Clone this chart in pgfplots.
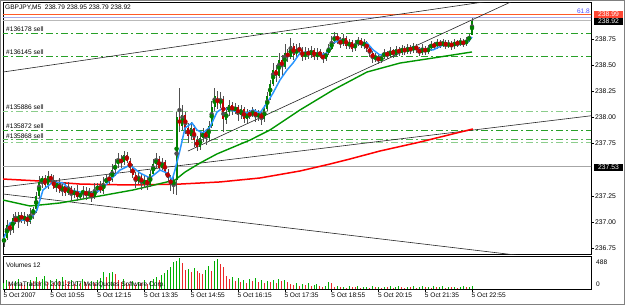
\documentclass[border=0pt]{standalone}
\usepackage{pgfplots}
\pgfplotsset{compat=1.18}
\usepackage{pgfplotstable}
\usepackage{fontspec}
\setmainfont{Liberation Sans}
\definecolor{bullc}{RGB}{0,128,0}
\definecolor{bearc}{RGB}{190,0,0}
\definecolor{wickc}{RGB}{80,80,80}
\definecolor{mablue}{RGB}{40,150,255}
\definecolor{magreen}{RGB}{0,150,0}
\definecolor{mared}{RGB}{255,0,0}
\definecolor{sellgreen}{RGB}{40,160,40}
\definecolor{selllight}{RGB}{140,205,140}
\definecolor{volgreen}{RGB}{0,175,0}
\definecolor{volred}{RGB}{235,40,40}
\definecolor{fiboorange}{RGB}{255,90,40}
\definecolor{bidlav}{RGB}{170,170,230}
\definecolor{boxred}{RGB}{255,70,50}
\definecolor{frameg}{RGB}{128,128,128}

\pgfplotstableread{
i o h l c
0 236.80 236.88 236.76 236.85
1 236.85 237.02 236.83 236.97
2 236.97 236.99 236.87 236.92
3 236.92 237.08 236.89 237.04
4 237.04 237.10 236.98 237.00
5 237.00 237.09 236.94 237.07
6 237.07 237.10 236.99 237.02
7 237.02 237.10 236.98 237.05
8 237.05 237.08 236.96 237.00
9 237.00 237.13 236.98 237.08
10 237.08 237.14 237.03 237.12
11 237.12 237.29 237.09 237.25
12 237.25 237.44 237.23 237.38
13 237.38 237.44 237.32 237.42
14 237.42 237.45 237.32 237.35
15 237.35 237.49 237.31 237.44
16 237.44 237.46 237.36 237.40
17 237.40 237.45 237.31 237.33
18 237.33 237.40 237.29 237.37
19 237.37 237.42 237.28 237.30
20 237.30 237.36 237.25 237.34
21 237.34 237.38 237.25 237.28
22 237.28 237.38 237.26 237.32
23 237.32 237.34 237.20 237.26
24 237.26 237.33 237.23 237.30
25 237.30 237.35 237.20 237.24
26 237.24 237.29 237.22 237.27
27 237.27 237.34 237.22 237.30
28 237.30 237.33 237.21 237.25
29 237.25 237.33 237.23 237.28
30 237.28 237.30 237.19 237.24
31 237.24 237.37 237.22 237.31
32 237.31 237.37 237.28 237.34
33 237.34 237.39 237.28 237.30
34 237.30 237.43 237.27 237.37
35 237.37 237.45 237.35 237.42
36 237.42 237.47 237.36 237.40
37 237.40 237.55 237.38 237.50
38 237.50 237.60 237.44 237.55
39 237.55 237.66 237.52 237.60
40 237.60 237.64 237.52 237.57
41 237.57 237.68 237.55 237.64
42 237.64 237.67 237.56 237.58
43 237.58 237.61 237.47 237.52
44 237.52 237.55 237.42 237.45
45 237.45 237.48 237.33 237.38
46 237.38 237.49 237.36 237.44
47 237.44 237.46 237.31 237.36
48 237.36 237.44 237.33 237.40
49 237.40 237.43 237.31 237.35
50 237.35 237.50 237.33 237.46
51 237.46 237.60 237.44 237.55
52 237.55 237.66 237.52 237.60
53 237.60 237.63 237.49 237.52
54 237.52 237.61 237.50 237.57
55 237.57 237.59 237.45 237.48
56 237.48 237.51 237.38 237.42
57 237.42 237.45 237.30 237.35
58 237.35 237.44 237.27 237.40
59 237.40 238.05 237.26 238.00
60 238.00 238.28 237.86 237.92
61 237.92 238.12 237.88 238.02
62 238.02 238.05 237.84 237.90
63 237.90 237.95 237.76 237.82
64 237.82 237.96 237.78 237.90
65 237.90 237.93 237.72 237.78
66 237.78 237.82 237.68 237.72
67 237.72 237.86 237.69 237.80
68 237.80 237.90 237.76 237.86
69 237.86 237.89 237.74 237.80
70 237.80 237.97 237.77 237.92
71 237.92 238.16 237.90 238.10
72 238.10 238.28 238.06 238.20
73 238.20 238.25 238.08 238.12
74 238.12 238.24 238.09 238.18
75 238.18 238.21 237.86 237.98
76 237.98 238.10 237.94 238.05
77 238.05 238.17 238.01 238.12
78 238.12 238.15 238.02 238.06
79 238.06 238.14 238.03 238.10
80 238.10 238.12 237.97 238.02
81 238.02 238.12 237.99 238.08
82 238.08 238.10 237.95 237.98
83 237.98 238.08 237.95 238.04
84 238.04 238.07 237.98 238.02
85 238.02 238.10 238.00 238.06
86 238.06 238.08 237.96 238.00
87 238.00 238.07 237.97 238.04
88 238.04 238.06 237.93 237.98
89 237.98 238.12 237.96 238.08
90 238.08 238.24 238.06 238.20
91 238.20 238.36 238.17 238.32
92 238.32 238.52 238.30 238.45
93 238.45 238.50 238.34 238.40
94 238.40 238.62 238.38 238.55
95 238.55 238.60 238.40 238.48
96 238.48 238.70 238.46 238.62
97 238.62 238.66 238.53 238.58
98 238.58 238.76 238.56 238.68
99 238.68 238.71 238.55 238.60
100 238.60 238.70 238.57 238.66
101 238.66 238.71 238.60 238.64
102 238.64 238.67 238.54 238.58
103 238.58 238.67 238.55 238.63
104 238.63 238.66 238.56 238.60
105 238.60 238.68 238.57 238.64
106 238.64 238.66 238.55 238.58
107 238.58 238.66 238.55 238.62
108 238.62 238.65 238.57 238.60
109 238.60 238.63 238.52 238.56
110 238.56 238.65 238.54 238.62
111 238.62 238.70 238.60 238.66
112 238.66 238.78 238.64 238.72
113 238.72 238.82 238.70 238.78
114 238.78 238.81 238.70 238.74
115 238.74 238.77 238.66 238.70
116 238.70 238.80 238.68 238.76
117 238.76 238.78 238.65 238.68
118 238.68 238.75 238.65 238.72
119 238.72 238.74 238.63 238.66
120 238.66 238.74 238.64 238.70
121 238.70 238.77 238.68 238.74
122 238.74 238.76 238.66 238.69
123 238.69 238.75 238.66 238.71
124 238.71 238.73 238.63 238.66
125 238.66 238.68 238.58 238.62
126 238.62 238.64 238.52 238.56
127 238.56 238.62 238.53 238.58
128 238.58 238.60 238.51 238.54
129 238.54 238.61 238.52 238.58
130 238.58 238.65 238.56 238.62
131 238.62 238.64 238.56 238.59
132 238.59 238.67 238.57 238.64
133 238.64 238.66 238.57 238.60
134 238.60 238.68 238.58 238.65
135 238.65 238.67 238.59 238.62
136 238.62 238.69 238.60 238.66
137 238.66 238.68 238.60 238.63
138 238.63 238.70 238.61 238.67
139 238.67 238.69 238.61 238.64
140 238.64 238.71 238.62 238.68
141 238.68 238.70 238.62 238.65
142 238.65 238.67 238.59 238.62
143 238.62 238.70 238.60 238.66
144 238.66 238.68 238.60 238.63
145 238.63 238.69 238.61 238.66
146 238.66 238.73 238.64 238.70
147 238.70 238.72 238.65 238.68
148 238.68 238.75 238.66 238.72
149 238.72 238.74 238.66 238.69
150 238.69 238.75 238.67 238.72
151 238.72 238.74 238.65 238.68
152 238.68 238.74 238.66 238.71
153 238.71 238.73 238.65 238.68
154 238.68 238.75 238.66 238.72
155 238.72 238.74 238.67 238.70
156 238.70 238.76 238.68 238.73
157 238.73 238.75 238.67 238.70
158 238.70 238.77 238.68 238.74
159 238.74 238.80 238.72 238.77
160 238.79 238.95 238.79 238.92
}\candles

\pgfplotstableread{
i v g
0 95 1
1 140 1
2 110 0
3 80 0
4 125 1
5 155 1
6 95 0
7 65 0
8 110 1
9 140 1
10 125 0
11 190 1
12 125 0
13 155 1
14 205 1
15 110 0
16 140 1
17 95 0
18 155 1
19 125 0
20 190 1
21 140 0
22 110 0
23 140 1
24 80 0
25 125 1
26 95 0
27 155 1
28 110 0
29 80 0
30 125 1
31 95 0
32 140 1
33 175 1
34 265 1
35 190 0
36 250 1
37 270 1
38 235 0
39 140 0
40 110 0
41 155 1
42 95 0
43 80 0
44 125 1
45 65 0
46 110 1
47 95 0
48 140 1
49 80 0
50 125 1
51 155 1
52 190 1
53 140 0
54 220 1
55 250 1
56 300 1
57 345 1
58 425 1
59 440 1
60 488 1
61 410 0
62 300 0
63 315 1
64 270 0
65 330 1
66 285 0
67 250 0
68 235 0
69 300 1
70 360 1
71 285 0
72 440 1
73 470 1
74 395 0
75 345 0
76 205 0
77 155 0
78 190 1
79 125 0
80 175 1
81 110 0
82 140 1
83 95 0
84 155 1
85 125 0
86 175 1
87 110 0
88 140 1
89 95 0
90 125 1
91 110 0
92 140 1
93 95 0
94 155 1
95 125 0
96 140 1
97 110 0
98 80 0
99 65 0
100 95 1
101 50 0
102 80 1
103 65 0
104 95 1
105 50 0
106 65 1
107 80 1
108 50 0
109 35 0
110 50 1
111 115 1
112 100 0
113 30 0
114 40 1
115 25 0
116 35 1
117 20 0
118 45 1
119 30 0
120 25 0
121 40 1
122 20 0
123 30 1
124 35 1
125 20 0
126 45 1
127 25 0
128 30 1
129 20 0
130 35 1
131 25 0
132 40 1
133 20 0
134 30 1
135 45 1
136 25 0
137 20 0
138 35 1
139 25 0
140 40 1
141 20 0
142 30 1
143 45 1
144 25 0
145 35 1
146 20 0
147 40 1
148 25 0
149 30 1
150 45 1
151 20 0
152 30 1
153 25 0
154 35 1
155 20 0
156 30 1
157 40 1
158 25 0
159 35 1
160 45 1
}\vols

\pgfplotstableread{
i p
0 236.846
2.05 236.989
5.47 237.018
8.89 237.018
11.28 237.114
13.33 237.305
16.75 237.382
20.17 237.372
22.56 237.305
25.98 237.286
29.4 237.276
31.79 237.286
33.85 237.324
36.24 237.401
39.66 237.496
43.08 237.544
46.5 237.468
49.91 237.420
53.33 237.496
55.73 237.468
57.44 237.401
58.46 237.496
60.17 237.688
61.88 237.898
64.27 237.946
65.98 237.879
68.03 237.850
70.43 237.908
72.82 238.051
74.87 238.090
77.26 238.071
80.0 238.051
83.08 238.042
85.13 238.071
87.52 238.042
89.91 238.138
91.97 238.233
94.36 238.358
96.75 238.453
98.8 238.520
101.2 238.616
103.6 238.626
105.6 238.616
108.0 238.597
110.4 238.616
112.5 238.712
114.9 238.740
117.3 238.712
119.3 238.693
121.7 238.712
124.1 238.712
126.2 238.645
128.5 238.597
130.9 238.616
133.0 238.626
136.4 238.645
139.8 238.673
143.2 238.645
146.7 238.645
150.1 238.693
154.9 238.693
158.3 238.712
160 238.769
}\mafast

\pgfplotstableread{
i p
-0.3 237.209
8.89 237.152
19.15 237.181
32.82 237.248
44.1 237.305
49.9 237.343
58.5 237.401
61.9 237.477
67.0 237.563
72.8 237.650
84.1 237.783
90.9 237.879
101.2 238.071
112.5 238.262
124.1 238.434
135.4 238.520
146.7 238.568
160 238.626
}\mamid

\pgfplotstableread{
i p
-0.3 237.410
12.3 237.391
26.0 237.362
43.1 237.353
60.2 237.362
73.8 237.382
87.5 237.420
101.2 237.487
111.5 237.554
118.3 237.602
128.5 237.678
142.2 237.764
160.3 237.889
}\maslow

\begin{document}
\begin{tikzpicture}[x=1bp,y=1bp]
\useasboundingbox (0,0) rectangle (625,-305);
\fill[white] (0,0) rectangle (625,-305);
% main price panel
\begin{axis}[
  at={(3bp,-2bp)}, anchor=north west, scale only axis,
  width=588bp, height=252bp,
  xmin=-0.34, xmax=200.68, ymin=236.6926, ymax=239.104,
  axis line style={black, line width=0.6bp},
  xtick=\empty,
  ytick={236.75,237.00,237.25,237.75,238.00,238.25,238.50,238.75},
  ytick pos=right, yticklabel pos=right,
  tick align=outside, major tick length=3bp,
  tick style={black, line width=0.5bp},
  yticklabel style={font=\fontsize{6.8}{7}\selectfont, anchor=west, inner sep=1bp,
    /pgf/number format/fixed, /pgf/number format/fixed zerofill,
    /pgf/number format/precision=2, /pgf/number format/assume math mode=true},
  clip=true,
]
% horizontal levels
\addplot[frameg!70, line width=1.3bp] coordinates {(-1,237.53) (202,237.53)};
\addplot[fiboorange, line width=0.8bp] coordinates {(-1,238.99) (202,238.99)};
\addplot[bidlav, line width=0.9bp] coordinates {(-1,238.955) (202,238.955)};
\addplot[gray!55, line width=0.6bp] coordinates {(-1,238.925) (202,238.925)};
% sell order lines
\addplot[sellgreen, line width=0.8bp, dash pattern=on 7bp off 3bp on 2bp off 3bp] coordinates {(-1,238.807) (202,238.807)};
\addplot[sellgreen, line width=0.8bp, dash pattern=on 7bp off 3bp on 2bp off 3bp] coordinates {(-1,238.587) (202,238.587)};
\addplot[selllight, line width=0.8bp, dash pattern=on 7bp off 3bp on 2bp off 3bp] coordinates {(-1,238.061) (202,238.061)};
\addplot[sellgreen, line width=0.8bp, dash pattern=on 7bp off 3bp on 2bp off 3bp] coordinates {(-1,237.879) (202,237.879)};
\addplot[sellgreen!80, line width=0.8bp, dash pattern=on 7bp off 3bp on 2bp off 3bp] coordinates {(-1,237.793) (202,237.793)};
\addplot[selllight, line width=0.8bp, dash pattern=on 7bp off 3bp on 2bp off 3bp] coordinates {(-1,237.764) (202,237.764)};
% trend lines
\addplot[black!85, line width=0.6bp] coordinates {(-0.34,238.434) (170,239.129)};
\addplot[black!85, line width=0.6bp] coordinates {(62.9,237.678) (174.7,239.123)};
\addplot[black!85, line width=0.6bp] coordinates {(-0.34,237.334) (205,238.03)};
\addplot[black!85, line width=0.6bp] coordinates {(-0.34,237.267) (176.4,236.678)};
% moving averages
\addplot[mared, line width=1.5bp] table[x=i,y=p] {\maslow};
\addplot[magreen, line width=1.4bp] table[x=i,y=p] {\mamid};
% candles: wicks
\addplot[wickc, only marks, mark=none, forget plot,
  error bars/.cd, y dir=both, y explicit, error mark=none,
  error bar style={wickc, line width=0.5bp}]
  table[x=i, y expr={(\thisrow{h}+\thisrow{l})/2}, y error expr={(\thisrow{h}-\thisrow{l})/2}] {\candles};
% bodies
\addplot[bullc, only marks, mark=none, forget plot,
  restrict expr to domain={\thisrow{c}-\thisrow{o}}{0:10},
  error bars/.cd, y dir=both, y explicit, error mark=none,
  error bar style={bullc, line width=1.9bp}]
  table[x=i, y expr={(\thisrow{o}+\thisrow{c})/2}, y error expr={max(abs(\thisrow{c}-\thisrow{o})/2,0.005)}] {\candles};
\addplot[bearc, only marks, mark=none, forget plot,
  restrict expr to domain={\thisrow{c}-\thisrow{o}}{-10:-0.0001},
  error bars/.cd, y dir=both, y explicit, error mark=none,
  error bar style={bearc, line width=1.9bp}]
  table[x=i, y expr={(\thisrow{o}+\thisrow{c})/2}, y error expr={max(abs(\thisrow{c}-\thisrow{o})/2,0.005)}] {\candles};
\addplot[mablue, line width=1.5bp] table[x=i,y=p] {\mafast};
\end{axis}
% volume panel
\begin{axis}[
  at={(3bp,-256bp)}, anchor=north west, scale only axis,
  width=588bp, height=33bp,
  xmin=-0.34, xmax=200.68, ymin=0, ymax=519,
  axis line style={black, line width=0.6bp},
  ytick=\empty,
  xtick={0,16,32,48,64,80,96,112,128,144,160},
  xticklabels={5 Oct 2007,5 Oct 10:55,5 Oct 12:15,5 Oct 13:35,5 Oct 14:55,5 Oct 16:15,5 Oct 17:35,5 Oct 18:55,5 Oct 20:15,5 Oct 21:35,5 Oct 22:55},
  xtick pos=bottom, tick align=outside, major tick length=3bp,
  tick style={black, line width=0.5bp},
  xticklabel style={font=\fontsize{6.6}{7}\selectfont, anchor=north west, xshift=-1.5bp, inner sep=1bp},
]
\addplot[ycomb, volgreen, line width=1bp, restrict expr to domain={\thisrow{g}}{1:1}] table[x=i,y=v] {\vols};
\addplot[ycomb, volred, line width=1bp, restrict expr to domain={\thisrow{g}}{0:0}] table[x=i,y=v] {\vols};
\end{axis}
% texts
\node[anchor=west, font=\fontsize{6.6}{7}\selectfont, inner sep=0] at (5,-8) {GBPJPY,M5\ \ 238.79 238.95 238.79 238.92};
\begin{scope}[every node/.style={anchor=west, font=\fontsize{6.6}{7}\selectfont, inner sep=0}]
\node at (6,-29) {\#136178 sell};
\node at (6,-52) {\#136145 sell};
\node at (6,-107) {\#135886 sell};
\node at (6,-126) {\#135872 sell};
\node at (6,-136) {\#135868 sell};
\node at (6,-265) {Volumes 12};
\node at (8,-284.5) {MetaTrader \textcopyright{} 2001-2007 MetaQuotes Software Corp.};
\node at (596,-262) {488};
\node at (596,-284) {0};
\end{scope}
\node[anchor=east, font=\fontsize{6.6}{7}\selectfont, text=blue!70!white, inner sep=0] at (590,-11) {61.8};
\fill[boxred] (594,-10.5) rectangle (623,-17.5);
\node[font=\fontsize{6.8}{7}\selectfont, text=white, inner sep=0] at (608.5,-14) {238.99};
\fill[black] (594,-17.5) rectangle (623,-24.5);
\node[font=\fontsize{6.8}{7}\selectfont, text=white, inner sep=0] at (608.5,-21) {238.92};
\fill[black] (594,-164) rectangle (623,-171);
\node[font=\fontsize{6.8}{7}\selectfont, text=white, inner sep=0] at (608.5,-167.5) {237.53};
\draw[frameg, line width=0.8bp] (0.4,-0.4) rectangle (624.6,-304.6);
\end{tikzpicture}
\end{document}
